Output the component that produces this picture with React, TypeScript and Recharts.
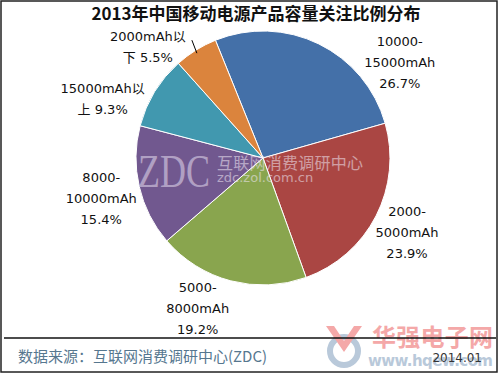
import React from 'react';
import { PieChart, Pie, Cell } from 'recharts';

// categories in clockwise order starting from the top-left edge of the blue slice
const categories = [
  '10000-15000mAh',
  '2000-5000mAh',
  '5000-8000mAh',
  '8000-10000mAh',
  '15000mAh以上',
  '2000mAh以下',
];
const shares = [26.7, 23.9, 19.2, 15.4, 9.3, 5.5];
// how each label wraps; the percentage is appended to the last line
const labelLines = [
  ['10000-', '15000mAh', ''],
  ['2000-', '5000mAh', ''],
  ['5000-', '8000mAh', ''],
  ['8000-', '10000mAh', ''],
  ['15000mAh以', '上 '],
  ['2000mAh以', '下 '],
];

const colors = ['#4470A8', '#AA4643', '#89A54E', '#71588F', '#4198AF', '#DB843D'];

// label block centre, relative to the slice's outer mid point
const labelOffsets = [
  [81, 18],
  [31, 16],
  [-33, 27],
  [-38, 11],
  [-52, 7],
  [-48, -4],
];

const data = categories.map((name, i) => ({ name, value: shares[i] }));

const RADIAN = Math.PI / 180;
const FONT = '"DejaVu Sans", "Noto Sans CJK SC", sans-serif';
const CJK = '"Noto Sans CJK SC", sans-serif';
const LINE = 21;

const renderLabel = (props: any) => {
  const { cx, cy, midAngle, outerRadius, index, value } = props;
  const ax = cx + outerRadius * Math.cos(-midAngle * RADIAN);
  const ay = cy + outerRadius * Math.sin(-midAngle * RADIAN);
  const [dx, dy] = labelOffsets[index];
  const x = ax + dx;
  const y = ay + dy;
  const lines = [...labelLines[index]];
  lines[lines.length - 1] = lines[lines.length - 1] + `${Number(value).toFixed(1)}%`;
  const top = y - ((lines.length - 1) * LINE) / 2;
  return (
    <g key={`lbl-${index}`}>
      {index === 5 && (
        <line x1={ax + 1} y1={ay + 3} x2={ax - 4} y2={ay - 10} stroke="#000" strokeWidth={1} />
      )}
      <text
        x={x}
        y={top}
        textAnchor="middle"
        dominantBaseline="central"
        fontFamily={FONT}
        fontSize={13}
        fill="#111"
      >
        {lines.map((l, k) => (
          <tspan key={k} x={x} y={top + k * LINE}>
            {l}
          </tspan>
        ))}
      </text>
    </g>
  );
};

export default function App() {
  return (
    <div style={{ position: 'relative', width: 500, height: 375, background: '#fff' }}>
      <style>{'body{margin:0}'}</style>
      <PieChart width={500} height={375} margin={{ top: 0, right: 0, bottom: 0, left: 0 }}>
        <Pie
          data={data}
          dataKey="value"
          nameKey="name"
          cx={263}
          cy={158}
          outerRadius={127}
          startAngle={112}
          endAngle={-248}
          stroke="#fff"
          strokeWidth={1}
          labelLine={false}
          label={renderLabel}
          isAnimationActive={false}
        >
          {data.map((d, i) => (
            <Cell key={d.name} fill={colors[i]} />
          ))}
        </Pie>
      </PieChart>
      <svg
        width={500}
        height={375}
        style={{ position: 'absolute', left: 0, top: 0, pointerEvents: 'none' }}
      >
        <rect x={1} y={1} width={496} height={371} fill="none" stroke="#222" strokeWidth={1.5} />
        <text x={256} y={20} textAnchor="middle" fontFamily={CJK} fontWeight="bold" fontSize={17} fill="#111">
          2013年中国移动电源产品容量关注比例分布
        </text>

        {/* ZDC watermark */}
        <text
          x={138}
          y={187}
          fontFamily='"Liberation Serif", serif'
          fontSize={46}
          textLength={72}
          lengthAdjust="spacingAndGlyphs"
          fill="#e4dcee"
          opacity={0.55}
        >
          ZDC
        </text>
        <text x={217} y={169} fontFamily={CJK} fontSize={16} textLength={146} fill="#f0e8f4" opacity={0.55}>
          互联网消费调研中心
        </text>
        <text x={217} y={182} fontFamily={FONT} fontSize={13} fill="#f0e8f4" opacity={0.55}>
          zdc.zol.com.cn
        </text>

        {/* hqew watermark */}
        <circle cx={344} cy={351} r={14} fill="none" stroke="#b9c9da" strokeWidth={6} />
        <path d="M326 326 L344 352 L362 326 L354 326 L344 341 L334 326 Z" fill="#f4a8a8" />
        <text x={372} y={346} fontFamily={CJK} fontWeight="bold" fontSize={24} fill="#f4a8a8" textLength={121}>
          华强电子网
        </text>
        <text x={368} y={366} fontFamily={FONT} fontWeight="bold" fontSize={15} fill="#b9c9da" textLength={125}>
          www.hqew.com
        </text>

        <line x1={4} y1={338} x2={496} y2={338} stroke="#111" strokeWidth={1.5} />
        <text x={18} y={362} fontFamily={CJK} fontSize={15} fill="#56778f">
          数据来源：互联网消费调研中心(ZDC)
        </text>
        <text x={482} y={362} textAnchor="end" fontFamily={FONT} fontSize={12} fill="#333">
          2014.01
        </text>
      </svg>
    </div>
  );
}
